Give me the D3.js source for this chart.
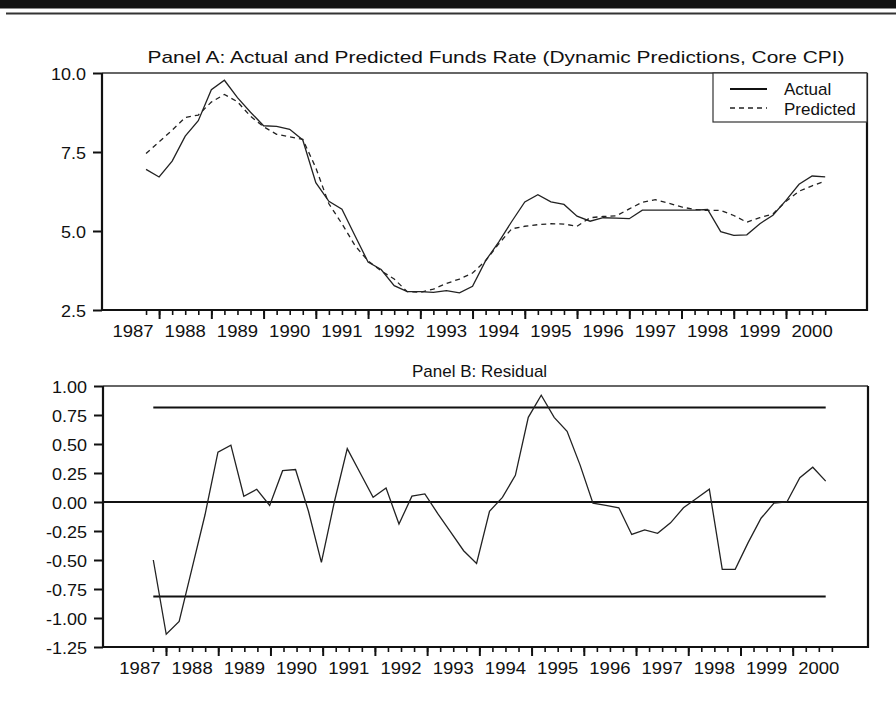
<html>
<head>
  <meta charset="UTF-8">
  <title>Funds rate - actual, predicted, residual</title>
  <script src="https://cdn.jsdelivr.net/npm/d3@7"></script>
  <style>
    body { margin: 0; background: #fff; }
    svg text { font-family: "Liberation Sans", Arial, Helvetica, sans-serif; fill: #111; }
  </style>
</head>
<body>
<svg id="chart" width="896" height="710"></svg>
<script>
  // ---------------- data (quarterly, first obs 1987Q4) ----------------
  const firstQuarter = 1987.75
  const years = [1987, 1988, 1989, 1990, 1991, 1992, 1993, 1994, 1995, 1996, 1997, 1998, 1999, 2000]
  const yTicksA = [2.5, 5.0, 7.5, 10.0]
  const yTicksB = [1.00, 0.75, 0.50, 0.25, 0.00, -0.25, -0.50, -0.75, -1.00, -1.25]

  const actual = [6.95, 6.71, 7.21, 8.00, 8.49, 9.47, 9.77, 9.22, 8.76, 8.33,
    8.31, 8.22, 7.88, 6.53, 5.94, 5.69, 4.85, 4.02, 3.78, 3.27,
    3.08, 3.08, 3.06, 3.11, 3.04, 3.25, 4.06, 4.65, 5.30, 5.92,
    6.15, 5.92, 5.84, 5.47, 5.31, 5.42, 5.41, 5.39, 5.66, 5.66,
    5.66, 5.66, 5.66, 5.68, 4.98, 4.86, 4.88, 5.23, 5.50, 5.97,
    6.48, 6.74, 6.71]
  const predicted = [7.45, 7.82, 8.19, 8.59, 8.67, 9.08, 9.32, 9.09, 8.63, 8.30,
    8.06, 7.98, 7.90, 7.00, 5.86, 5.23, 4.54, 4.05, 3.74, 3.48,
    3.08, 3.06, 3.16, 3.34, 3.48, 3.67, 4.06, 4.59, 5.07, 5.15,
    5.20, 5.23, 5.22, 5.15, 5.42, 5.46, 5.48, 5.70, 5.91, 5.99,
    5.88, 5.76, 5.68, 5.65, 5.65, 5.49, 5.28, 5.42, 5.54, 5.94,
    6.26, 6.43, 6.58]
  const residual = [-0.50, -1.14, -1.03, -0.57, -0.11, 0.43, 0.49, 0.05, 0.11, -0.03,
    0.27, 0.28, -0.08, -0.52, 0.00, 0.46, 0.25, 0.04, 0.12, -0.19,
    0.05, 0.07, -0.10, -0.26, -0.42, -0.53, -0.08, 0.04, 0.23, 0.73,
    0.92, 0.73, 0.61, 0.32, -0.01, -0.03, -0.05, -0.28, -0.24, -0.27,
    -0.18, -0.05, 0.03, 0.11, -0.58, -0.58, -0.35, -0.14, -0.01, 0.00,
    0.21, 0.30, 0.18]
  const band = 0.815

  const dateOf = i => firstQuarter + i / 4
  const quarters = actual.map((d, i) => dateOf(i))
  const yearStarts = years.slice(1)
  const FS = 17

  const svg = d3.select('#chart')

  // stretch text horizontally around its anchor (the print is wide-set)
  function stretch(sel, sx) {
    sel.each(function () {
      const t = d3.select(this)
      const x = +t.attr('x') || 0, y = +t.attr('y') || 0
      t.attr('x', 0).attr('y', 0)
        .attr('transform', 'translate(' + x + ',' + y + ') scale(' + sx + ',1)')
    })
  }
  // plain hyphen for negatives, as in the print
  const fmt = f => d => d3.format(f)(d).replace('\u2212', '-')

  // ---------------- page rules at the top ----------------
  svg.append('rect').attr('x', 0).attr('y', 0).attr('width', 896).attr('height', 8.5).attr('fill', '#111')
  svg.append('line').attr('x1', 6).attr('x2', 896).attr('y1', 13.5).attr('y2', 13.5)
    .attr('stroke', '#333').attr('stroke-width', 1.8)

  // ---------------- shared drawing of a panel frame + axes ----------------
  function panel(box, xTick, y, yTicks, yFmt) {
    const g = svg.append('g')

    // y axis
    const ya = g.append('g').attr('transform', 'translate(' + box.left + ',0)')
      .call(d3.axisLeft(y).tickValues(yTicks).tickFormat(fmt(yFmt)).tickSize(9).tickPadding(7))
    ya.select('.domain').remove()
    ya.selectAll('line').attr('stroke', '#111').attr('stroke-width', 2)
    ya.selectAll('text').attr('font-size', FS).attr('dy', '0.36em').call(stretch, 1.06)

    // x axis: quarter minor ticks, year major ticks
    const xm = g.append('g').attr('transform', 'translate(0,' + box.bottom + ')')
      .call(d3.axisBottom(xTick).tickValues(quarters).tickSize(5).tickFormat(''))
    const xM = g.append('g').attr('transform', 'translate(0,' + box.bottom + ')')
      .call(d3.axisBottom(xTick).tickValues(yearStarts).tickSize(9).tickFormat(''))
    g.selectAll('.domain').remove()
    xm.selectAll('line').attr('stroke', '#111').attr('stroke-width', 1.6)
    xM.selectAll('line').attr('stroke', '#111').attr('stroke-width', 2)

    g.append('g').selectAll('text').data(years).join('text')
      .attr('x', d => xTick(d + 0.5)).attr('y', box.bottom + 27)
      .attr('text-anchor', 'middle').attr('font-size', FS)
      .text(d => d)
      .call(stretch, 1.09)

    // frame
    g.append('line').attr('x1', box.left).attr('x2', box.right).attr('y1', box.top).attr('y2', box.top)
      .attr('stroke', '#333').attr('stroke-width', 1.5)
    g.append('path')
      .attr('d', 'M' + box.left + ',' + box.top + 'V' + box.bottom + 'H' + box.right + 'V' + box.top)
      .attr('fill', 'none').attr('stroke', '#111').attr('stroke-width', 2.2)
    return g
  }

  // ---------------- Panel A ----------------
  const boxA = { left: 102, right: 867, top: 73, bottom: 310 }
  const xA = d3.scaleLinear().domain([1988, 2000]).range([159.1, 786])
  const yA = d3.scaleLinear().domain([2.5, 10]).range([boxA.bottom, boxA.top])
  const gA = panel(boxA, xA, yA, yTicksA, '.1f')

  svg.append('text').attr('x', 496).attr('y', 63).attr('text-anchor', 'middle')
    .attr('font-size', FS).text('Panel A: Actual and Predicted Funds Rate (Dynamic Predictions, Core CPI)')
    .call(stretch, 1.23)

  const lineA = d3.line().x((d, i) => xA(dateOf(i))).y(d => yA(d))
  gA.append('path').datum(predicted).attr('d', lineA)
    .attr('fill', 'none').attr('stroke', '#222').attr('stroke-width', 1.3).attr('stroke-dasharray', '5,4')
  gA.append('path').datum(actual).attr('d', lineA)
    .attr('fill', 'none').attr('stroke', '#222').attr('stroke-width', 1.3)

  // legend
  const lg = gA.append('g')
  lg.append('rect').attr('x', 713).attr('y', boxA.top).attr('width', boxA.right - 713).attr('height', 49)
    .attr('fill', '#fff').attr('stroke', '#333').attr('stroke-width', 1.2)
  lg.append('line').attr('x1', 730).attr('x2', 767).attr('y1', 89).attr('y2', 89)
    .attr('stroke', '#111').attr('stroke-width', 2)
  lg.append('line').attr('x1', 730).attr('x2', 767).attr('y1', 108).attr('y2', 108)
    .attr('stroke', '#222').attr('stroke-width', 1.3).attr('stroke-dasharray', '5,4')
  lg.selectAll('text').data(['Actual', 'Predicted']).join('text')
    .attr('x', 784).attr('y', (d, i) => 95 + i * 20)
    .attr('font-size', FS).text(d => d)
    .call(stretch, 1.0)

  // ---------------- Panel B ----------------
  const boxB = { left: 103, right: 868, top: 386, bottom: 647 }
  const xB = d3.scaleLinear().domain([1988, 2000]).range([166, 792.7])
  const xBd = d3.scaleLinear().domain([quarters[0], quarters[quarters.length - 1]]).range([153.3, 825.7])
  const yB = d3.scaleLinear().domain([-1.25, 1.00]).range([boxB.bottom, boxB.top])
  const gB = panel(boxB, xB, yB, yTicksB, '.2f')

  svg.append('text').attr('x', 412).attr('y', 377).attr('text-anchor', 'start')
    .attr('font-size', FS).text('Panel B: Residual')
    .call(stretch, 1.0)

  gB.append('line').attr('x1', boxB.left).attr('x2', boxB.right).attr('y1', yB(0)).attr('y2', yB(0))
    .attr('stroke', '#111').attr('stroke-width', 2)
  gB.selectAll('.band').data([band, -band]).join('line').attr('class', 'band')
    .attr('x1', xBd(quarters[0])).attr('x2', xBd(quarters[quarters.length - 1]))
    .attr('y1', d => yB(d)).attr('y2', d => yB(d))
    .attr('stroke', '#111').attr('stroke-width', 2)

  const lineB = d3.line().x((d, i) => xBd(dateOf(i))).y(d => yB(d))
  gB.append('path').datum(residual).attr('d', lineB)
    .attr('fill', 'none').attr('stroke', '#222').attr('stroke-width', 1.3)
</script>
</body>
</html>
